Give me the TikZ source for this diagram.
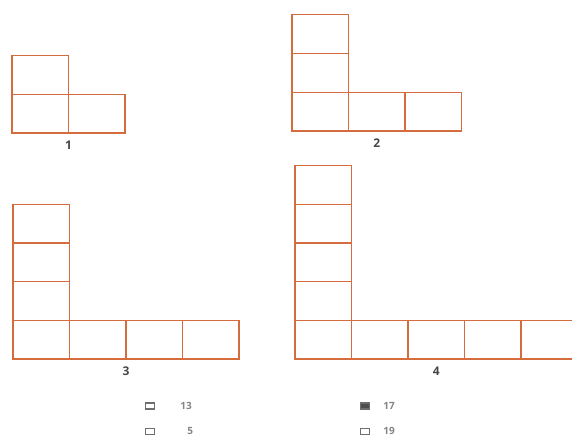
\documentclass[tikz,border=0pt]{standalone}
\usepackage{fontspec}
\setmainfont{Open Sans}
\usetikzlibrary{positioning,calc}
\definecolor{brick}{RGB}{212,108,62}
\definecolor{numgrey}{RGB}{70,70,70}
\definecolor{optgrey}{RGB}{110,110,110}
\tikzset{
  cell/.style={draw=brick, line width=1.2pt, minimum width=56.5pt,
               minimum height=38.7pt, inner sep=0pt},
  num/.style={font=\bfseries\fontsize{12}{12}\selectfont, text=numgrey, inner sep=1pt},
  tick/.style={draw=optgrey, line width=1.3pt, minimum width=9pt,
               minimum height=6pt, inner sep=0pt},
  tickon/.style={tick, fill=optgrey!70!black},
  opt/.style={font=\bfseries\fontsize{10}{10}\selectfont, text=optgrey!85, inner sep=1pt},
}

\begin{document}
\begin{tikzpicture}[x=1pt, y=-1pt]
  \useasboundingbox (0,0) rectangle (572,436);
  \clip (0,0) rectangle (572,436);
  % L-shapes, given by bottom-left corner
  \foreach \n/\x/\y in {1/12/133, 2/292/131, 3/13/359, 4/295/359} {
    \foreach \i in {0,...,\n}
      \node[cell] (f\n-v\i) at (\x+28.25, \y-19.35-38.7*\i) {};
    \foreach \j in {1,...,\n}
      \node[cell] (f\n-h\j) at (\x+28.25+56.5*\j, \y-19.35) {};
    \node[num] (lbl\n) at ($(f\n-v0.south west)!0.5!(f\n-h\n.south east)+(0,12)$) {\n};
  }
  % answer choices
  \node[tick] (o13) at (150,406) {};
  \node[opt, right=24pt of o13] (t13) {13};
  \node[tick, below=18pt of o13] (o5) {};
  \node[opt, right=31pt of o5] (t5) {5};
  \node[tickon] (o17) at (365,406) {};
  \node[opt, right=12pt of o17] (t17) {17};
  \node[tick, below=18pt of o17] (o19) {};
  \node[opt, right=12pt of o19] (t19) {19};
\end{tikzpicture}
\end{document}
